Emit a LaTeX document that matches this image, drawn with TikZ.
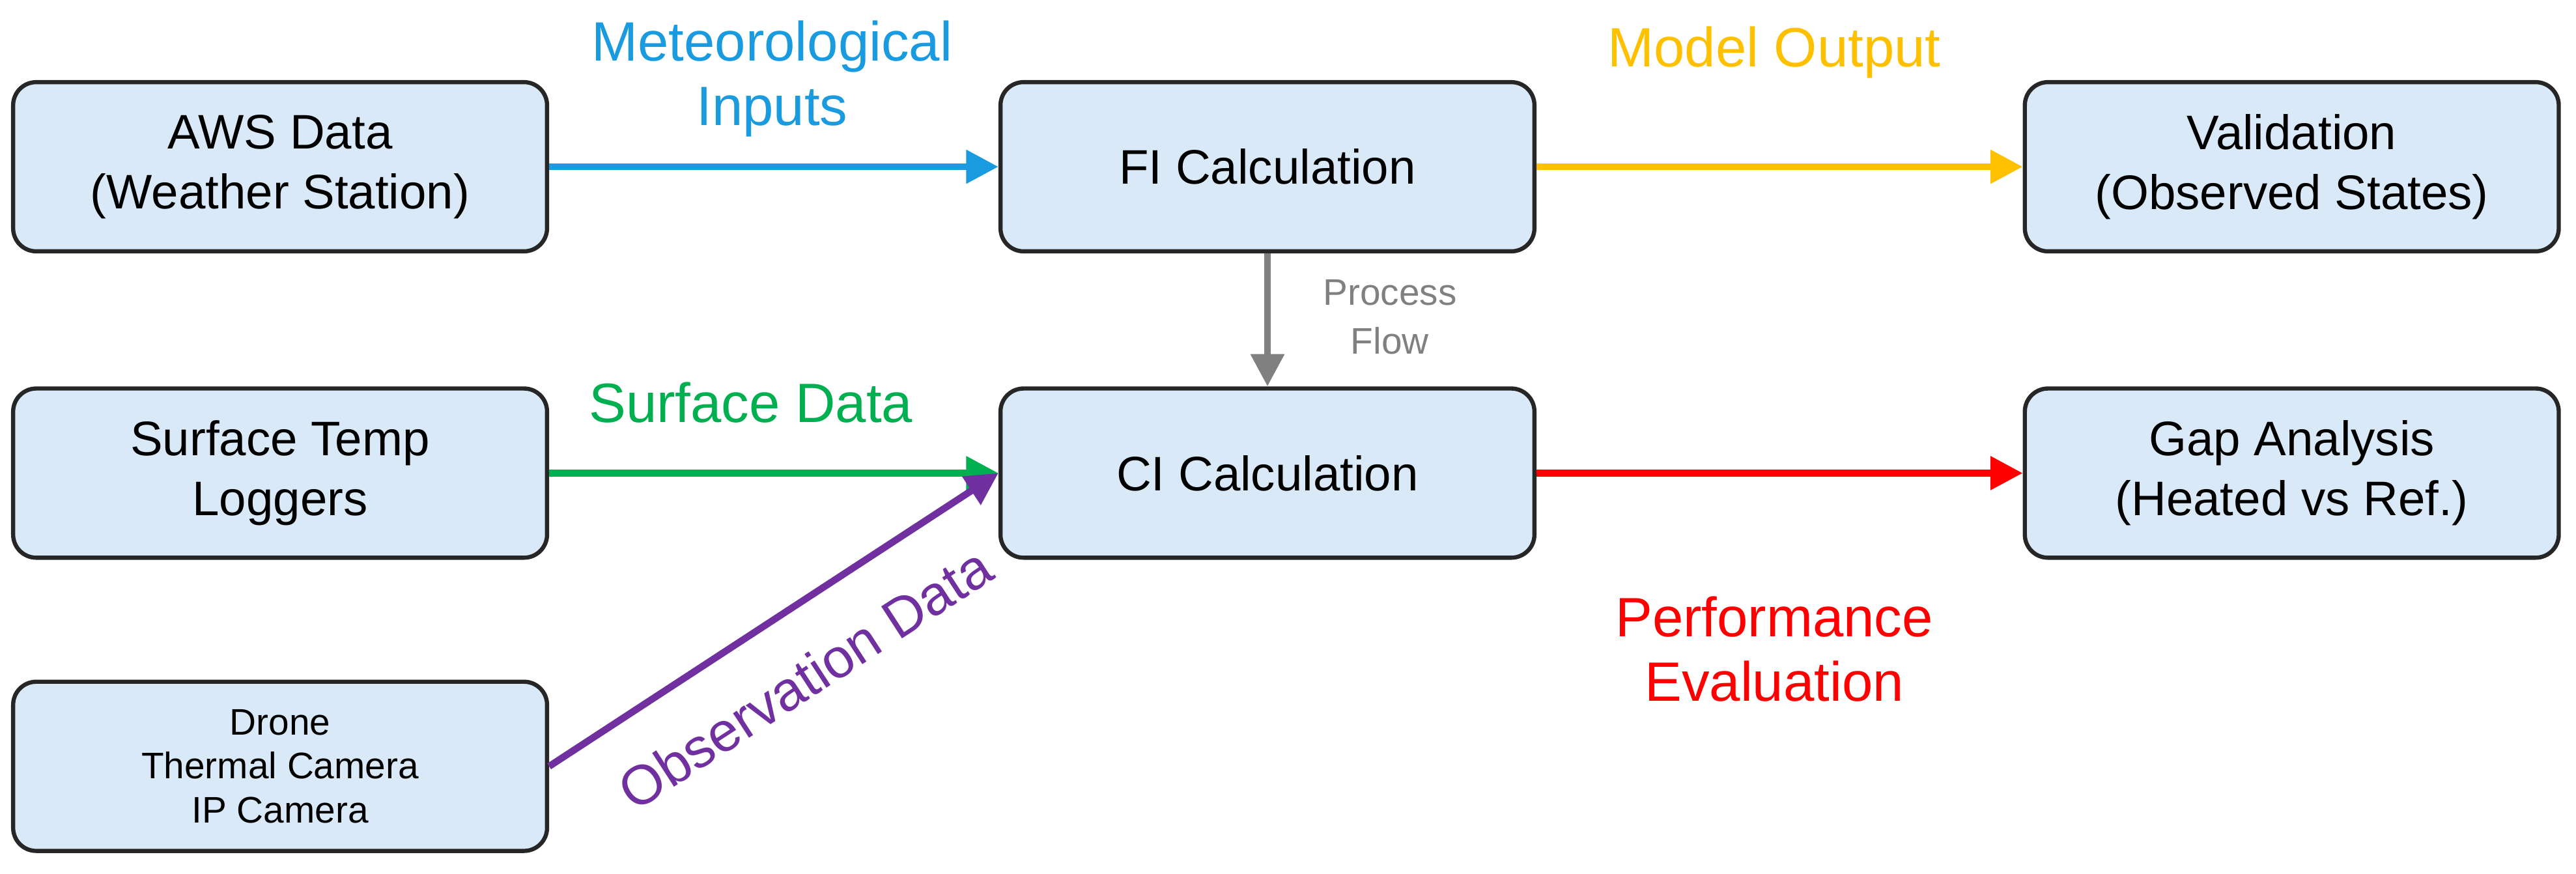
\documentclass[tikz,border=0pt]{standalone}
\usepackage{fontspec}
\setmainfont{Liberation Sans}
\usetikzlibrary{arrows.meta}
\definecolor{boxfill}{HTML}{DAE9F7}
\definecolor{cblue}{HTML}{1A9BE0}
\definecolor{cgold}{HTML}{FFC000}
\definecolor{cgreen}{HTML}{00B050}
\definecolor{cred}{HTML}{FF0000}
\definecolor{cpurple}{HTML}{7030A0}
\definecolor{cgray}{HTML}{808080}
\begin{document}
\begin{tikzpicture}[x=0.025cm,y=-0.025cm,
  box/.style={draw=black!85,line width=1.8pt,fill=boxfill,rounded corners=10pt,minimum width=325*0.025cm,minimum height=103*0.025cm,align=center,font=\fontsize{21}{26}\selectfont},
  small/.style={font=\fontsize{16}{19}\selectfont},
  arr/.style={line width=3pt,-{Triangle[length=14pt,width=14pt]}},
  lab/.style={font=\fontsize{24}{28}\selectfont,align=center}]
\useasboundingbox (0,0) rectangle (1568,532);
\node[box] (aws) at (170.5,101.5) {AWS Data\\(Weather Station)};
\node[box] (fi) at (771.5,101.5) {FI Calculation};
\node[box] (val) at (1395,101.5) {Validation\\(Observed States)};
\node[box] (sur) at (170.5,288) {Surface Temp\\Loggers};
\node[box] (ci) at (771.5,288) {CI Calculation};
\node[box] (gap) at (1395,288) {Gap Analysis\\(Heated vs Ref.)};
\node[box,small] (dr) at (170.5,466.5) {Drone\\Thermal Camera\\IP Camera};
\draw[arr,cblue] (aws.east) -- (fi.west);
\draw[arr,cgold] (fi.east) -- (val.west);
\draw[arr,cgray] (fi.south) -- (ci.north);
\draw[arr,cgreen] (sur.east) -- (ci.west);
\draw[arr,cpurple] (dr.east) -- (ci.west);
\draw[arr,cred] (ci.east) -- (gap.west);
\node[lab,text=cblue] (l1) at (470,48) {Meteorological\\Inputs};
\node[lab,text=cgold] (l2) at (1080,32) {Model Output};
\node[text=cgray,align=center,font=\fontsize{16}{21}\selectfont] (l3) at (846,193) {Process\\Flow};
\node[lab,text=cgreen] (l4) at (457,245) {Surface Data};
\node[lab,text=cred] (l5) at (1080,395) {Performance\\Evaluation};
\node[lab,text=cpurple,rotate=33] (l6) at (490,413) {Observation Data};
\end{tikzpicture}
\end{document}
